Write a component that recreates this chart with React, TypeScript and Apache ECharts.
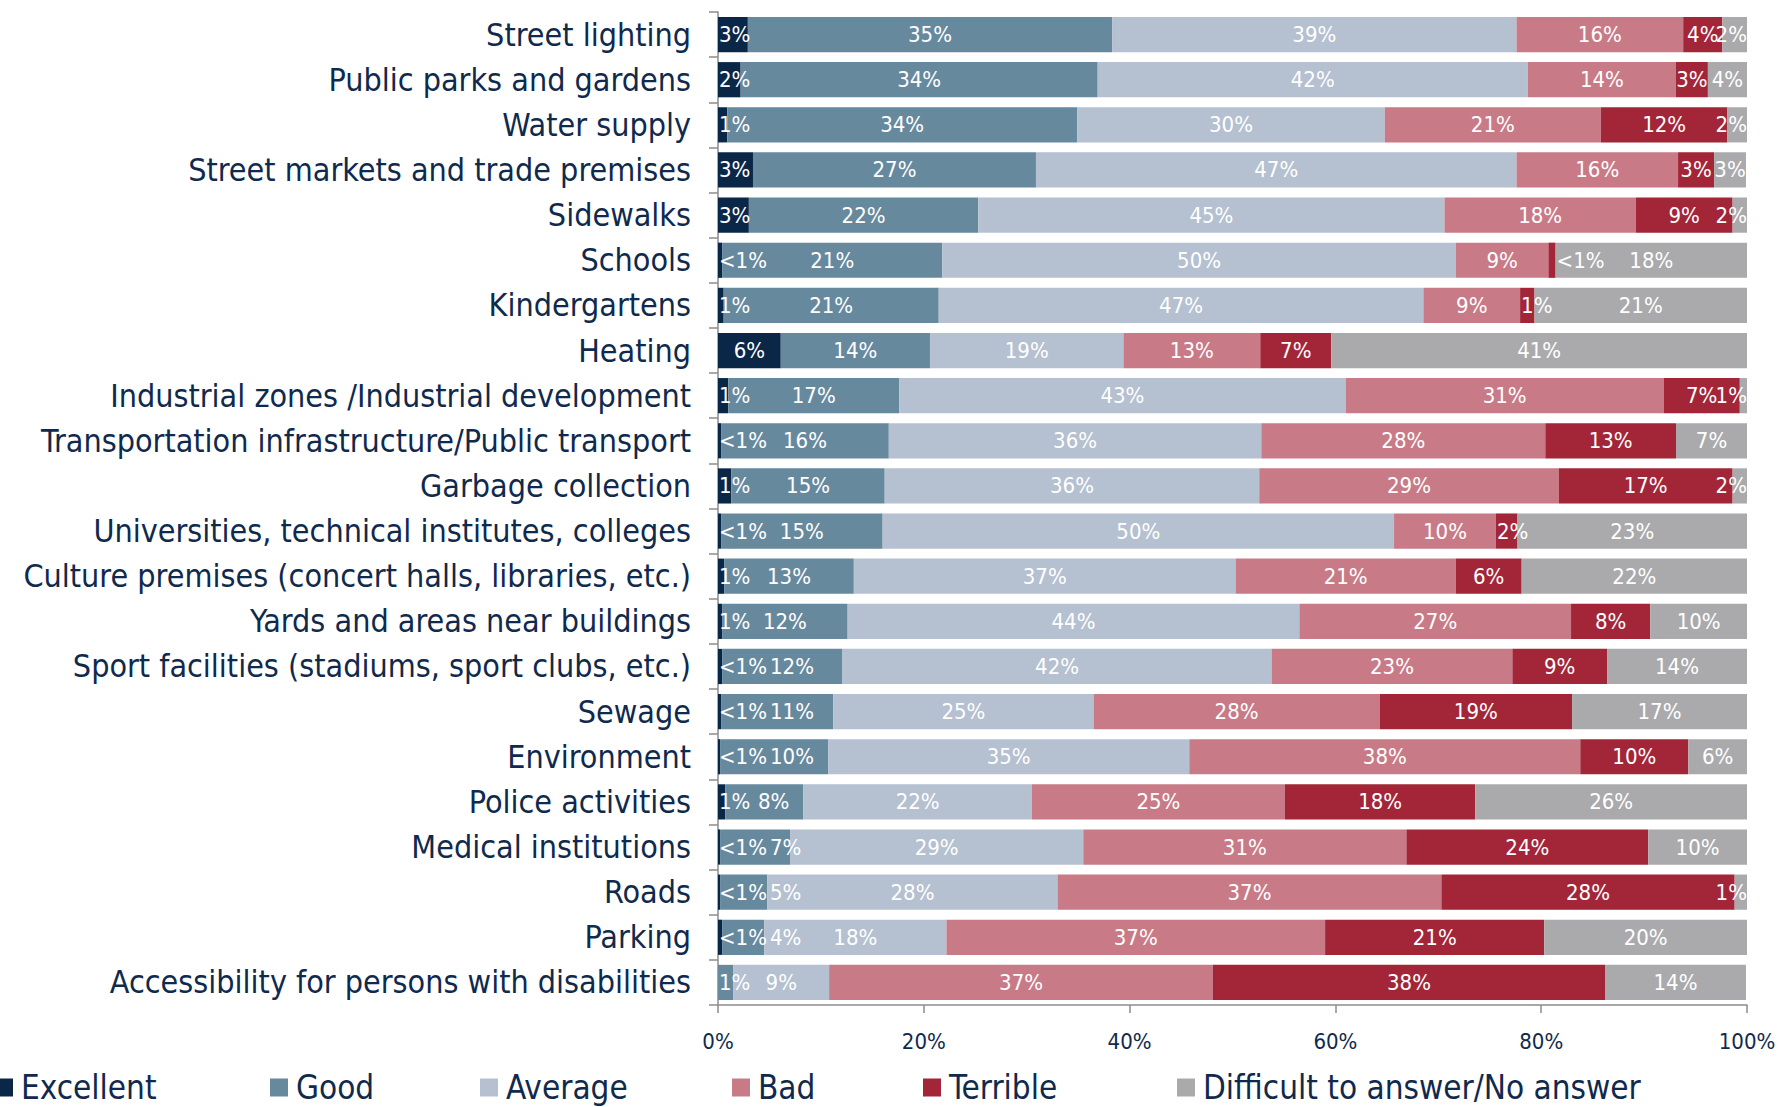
import React, { useEffect, useRef } from "react";
import * as echarts from "echarts";

const categories = [
  "Street lighting",
  "Public parks and gardens",
  "Water supply",
  "Street markets and trade premises",
  "Sidewalks",
  "Schools",
  "Kindergartens",
  "Heating",
  "Industrial zones /Industrial development",
  "Transportation infrastructure/Public transport",
  "Garbage collection",
  "Universities, technical institutes, colleges",
  "Culture premises (concert halls, libraries, etc.)",
  "Yards and areas near buildings",
  "Sport facilities (stadiums, sport clubs, etc.)",
  "Sewage",
  "Environment",
  "Police activities",
  "Medical institutions",
  "Roads",
  "Parking",
  "Accessibility for persons with disabilities",
];

// segment widths (share of respondents, %)
const excellent = [2.9, 2.2, 0.9, 3.4, 3.0, 0.4, 0.55, 6.1, 1.0, 0.3, 1.3, 0.3, 0.6, 0.4, 0.4, 0.3, 0.2, 0.7, 0.2, 0.2, 0.4, 0];
const good = [35.4, 34.7, 34.0, 27.5, 22.3, 21.4, 20.9, 14.5, 16.6, 16.3, 14.9, 15.7, 12.6, 12.2, 11.7, 10.9, 10.5, 7.6, 6.8, 4.6, 4.1, 1.5];
const average = [39.3, 41.8, 29.9, 46.7, 45.3, 49.9, 47.1, 18.8, 43.4, 36.2, 36.4, 49.7, 37.1, 43.9, 41.7, 25.3, 35.1, 22.2, 28.5, 28.2, 17.7, 9.3];
const bad = [16.2, 14.4, 21.0, 15.7, 18.6, 9.0, 9.4, 13.3, 30.9, 27.6, 29.1, 9.9, 21.4, 26.4, 23.4, 27.8, 38.0, 24.6, 31.4, 37.3, 36.8, 37.3];
const terrible = [3.8, 3.1, 12.3, 3.5, 9.4, 0.7, 1.4, 6.9, 7.4, 12.7, 16.9, 2.1, 6.4, 7.7, 9.2, 18.7, 10.5, 18.5, 23.5, 28.5, 21.3, 38.1];
const difficult = [2.4, 3.9, 1.9, 3.1, 1.4, 18.6, 20.7, 40.6, 0.7, 7.1, 1.4, 22.4, 21.9, 9.5, 13.7, 17.0, 5.7, 26.4, 9.6, 1.2, 19.8, 13.7];

// printed labels
const excellentLbl = ["3%", "2%", "1%", "3%", "3%", "<1%", "1%", "6%", "1%", "<1%", "1%", "<1%", "1%", "1%", "<1%", "<1%", "<1%", "1%", "<1%", "<1%", "<1%", ""];
const goodLbl = ["35%", "34%", "34%", "27%", "22%", "21%", "21%", "14%", "17%", "16%", "15%", "15%", "13%", "12%", "12%", "11%", "10%", "8%", "7%", "5%", "4%", "1%"];
const averageLbl = ["39%", "42%", "30%", "47%", "45%", "50%", "47%", "19%", "43%", "36%", "36%", "50%", "37%", "44%", "42%", "25%", "35%", "22%", "29%", "28%", "18%", "9%"];
const badLbl = ["16%", "14%", "21%", "16%", "18%", "9%", "9%", "13%", "31%", "28%", "29%", "10%", "21%", "27%", "23%", "28%", "38%", "25%", "31%", "37%", "37%", "37%"];
const terribleLbl = ["4%", "3%", "12%", "3%", "9%", "<1%", "1%", "7%", "7%", "13%", "17%", "2%", "6%", "8%", "9%", "19%", "10%", "18%", "24%", "28%", "21%", "38%"];
const difficultLbl = ["2%", "4%", "2%", "3%", "2%", "18%", "21%", "41%", "1%", "7%", "2%", "23%", "22%", "10%", "14%", "17%", "6%", "26%", "10%", "1%", "20%", "14%"];

const xTicks = [0, 20, 40, 60, 80, 100];

const FONT = "'DejaVu Sans Condensed', 'DejaVu Sans', sans-serif";
const NAVY = "#0f2a4d";
const GRID_LEFT = 718;

const seriesDefs = [
  { name: "Excellent", color: "#0b2748", values: excellent, labels: excellentLbl, legendLeft: -10 },
  { name: "Good", color: "#67899e", values: good, labels: goodLbl, legendLeft: 265 },
  { name: "Average", color: "#b5c0d0", values: average, labels: averageLbl, legendLeft: 475 },
  { name: "Bad", color: "#c87b87", values: bad, labels: badLbl, legendLeft: 727 },
  { name: "Terrible", color: "#a32538", values: terrible, labels: terribleLbl, legendLeft: 918 },
  { name: "Difficult to answer/No answer", color: "#aaaaac", values: difficult, labels: difficultLbl, legendLeft: 1172 },
];

function labelPos(si: number, v: number): string {
  if (si === 0) return v >= 5 ? "inside" : "insideLeft";
  if (si === 1) return v >= 3 ? "inside" : "insideLeft";
  if (si === 4 && v < 2.5) return v < 1 ? "right" : "insideLeft";
  if (si === 5 && v < 2.5) return "insideRight";
  return "inside";
}

// keep "Good" labels clear of the "Excellent" label printed at the bar start
function goodLabelLayout(p: any) {
  const i = p.dataIndex;
  const ex = excellentLbl[i];
  if (!ex) return {};
  const minX = GRID_LEFT + (ex === "<1%" ? 52 : 40);
  const r = p.labelRect;
  if (r && r.x < minX) {
    return {
      x: minX + r.width / 2,
      y: r.y + r.height / 2,
      align: "center",
      verticalAlign: "middle",
    };
  }
  return {};
}

export default function App() {
  const ref = useRef<HTMLDivElement>(null);
  useEffect(() => {
    if (!ref.current) return;
    const chart = echarts.init(ref.current, undefined, { renderer: "svg" });
    const option: any = {
      animation: false,
      backgroundColor: "#ffffff",
      grid: { left: GRID_LEFT, right: 34, top: 12, bottom: 102, containLabel: false },
      legend: seriesDefs.map((s) => ({
        data: [s.name],
        left: s.legendLeft,
        top: 1066,
        itemWidth: 18,
        itemHeight: 18,
        icon: "rect",
        selectedMode: false,
        textStyle: { color: NAVY, fontFamily: FONT, fontSize: 33, padding: [0, 0, 0, 3] },
      })),
      xAxis: {
        type: "value",
        min: 0,
        max: 100,
        interval: 20,
        axisLine: { show: true, lineStyle: { color: "#8c8c8c", width: 1.5 } },
        axisTick: { show: true, length: 8, lineStyle: { color: "#8c8c8c", width: 1.5 } },
        splitLine: { show: false },
        axisLabel: {
          color: NAVY,
          fontFamily: FONT,
          fontSize: 22,
          margin: 25,
          formatter: (v: number) => (xTicks.includes(v) ? v + "%" : ""),
        },
      },
      yAxis: {
        type: "category",
        data: categories,
        inverse: true,
        axisLine: { show: true, lineStyle: { color: "#8c8c8c", width: 1.5 } },
        axisTick: { show: true, length: 9, lineStyle: { color: "#8c8c8c", width: 1.5 } },
        axisLabel: { color: NAVY, fontFamily: FONT, fontSize: 32, margin: 27 },
      },
      series: seriesDefs.map((s, si) => ({
        name: s.name,
        type: "bar",
        stack: "total",
        barCategoryGap: "22%",
        itemStyle: { color: s.color },
        label: { show: true, color: "#ffffff", fontFamily: FONT, fontSize: 22 },
        labelLayout: si === 1 ? goodLabelLayout : undefined,
        data: s.values.map((v, i) => ({
          value: v,
          label: {
            show: s.labels[i] !== "",
            position: labelPos(si, v),
            distance: si === 5 ? 0 : 1,
            formatter: s.labels[i],
          },
        })),
      })),
    };
    chart.setOption(option);
    return () => chart.dispose();
  }, []);
  return (
    <div
      ref={ref}
      style={{ position: "fixed", left: 0, top: 0, width: 1781, height: 1107, background: "#fff" }}
    />
  );
}
